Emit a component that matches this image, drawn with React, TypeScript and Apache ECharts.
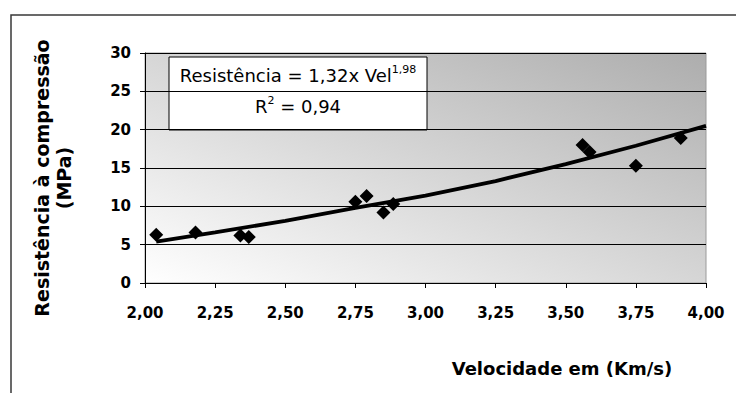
import React, { useEffect, useRef } from "react";
import * as echarts from "echarts";

const velocity = [2.04, 2.18, 2.34, 2.37, 2.75, 2.79, 2.85, 2.885, 3.56, 3.585, 3.75, 3.91];
const strength = [6.3, 6.6, 6.2, 6.0, 10.6, 11.35, 9.2, 10.3, 18.0, 17.1, 15.3, 18.9];
const trendVelocity = [2.04, 2.25, 2.5, 2.75, 3.0, 3.25, 3.5, 3.75, 4.0];
const trendStrength = [5.4, 6.6, 8.1, 9.8, 11.4, 13.3, 15.5, 17.9, 20.5];
const xTickLabels = ["2,00", "2,25", "2,50", "2,75", "3,00", "3,25", "3,50", "3,75", "4,00"];
const yTickLabels = ["0", "5", "10", "15", "20", "25", "30"];
const equationLine1 = "Resistência = 1,32x Vel{sup|1,98}";
const equationLine2 = "R{sup|2} = 0,94";
const yTitle = "Resistência à compressão\n(MPa)";
const xTitle = "Velocidade em (Km/s)";

const FONT = "DejaVu Sans";

export default function App() {
  const ref = useRef<HTMLDivElement>(null);
  useEffect(() => {
    if (!ref.current) return;
    const chart = echarts.init(ref.current, undefined, { renderer: "svg" });
    const bg = new echarts.graphic.LinearGradient(0, 1, 1, 0, [
      { offset: 0, color: "#ffffff" },
      { offset: 1, color: "#adadad" },
    ]);
    chart.setOption({
      animation: false,
      backgroundColor: "#ffffff",
      grid: {
        left: 145,
        right: 30,
        top: 53,
        bottom: 110,
        show: true,
        backgroundColor: bg,
        borderColor: "#9a9a9a",
        borderWidth: 1,
      },
      xAxis: {
        type: "value",
        min: 2,
        max: 4,
        interval: 0.25,
        name: xTitle,
        nameLocation: "middle",
        nameGap: 76,
        nameTextStyle: {
          fontFamily: FONT,
          fontWeight: "bold",
          fontSize: 18,
          color: "#000",
          padding: [0, 0, 0, 273],
        },
        axisLine: { show: true, lineStyle: { color: "#000", width: 1 } },
        axisTick: { show: true, inside: false, length: 5, lineStyle: { color: "#000" } },
        splitLine: { show: false },
        axisLabel: {
          formatter: (v: number) => xTickLabels[Math.round((v - 2) / 0.25)] ?? "",
          fontFamily: FONT,
          fontWeight: "bold",
          fontSize: 15,
          color: "#000",
          margin: 22,
        },
      },
      yAxis: {
        type: "value",
        min: 0,
        max: 30,
        interval: 5,
        name: yTitle,
        nameLocation: "middle",
        nameRotate: 90,
        nameGap: 70,
        nameTextStyle: {
          fontFamily: FONT,
          fontWeight: "bold",
          fontSize: 19,
          lineHeight: 22,
          color: "#000",
          align: "center",
          padding: [0, 20, 0, 0],
        },
        axisLine: { show: true, lineStyle: { color: "#000", width: 1 } },
        axisTick: { show: true, inside: false, length: 5, lineStyle: { color: "#000" } },
        splitLine: { show: true, lineStyle: { color: "#000", width: 1 } },
        axisLabel: {
          formatter: (v: number) => yTickLabels[Math.round(v / 5)] ?? "",
          fontFamily: FONT,
          fontWeight: "bold",
          fontSize: 15,
          color: "#000",
          margin: 14,
        },
      },
      series: [
        {
          type: "line",
          data: trendVelocity.map((x, i) => [x, trendStrength[i]]),
          showSymbol: false,
          symbol: "none",
          lineStyle: { color: "#000", width: 3.8 },
          z: 2,
        },
        {
          type: "scatter",
          data: velocity.map((x, i) => [x, strength[i]]),
          symbol: "diamond",
          symbolSize: 14,
          itemStyle: { color: "#000", opacity: 1 },
          z: 3,
        },
      ],
      graphic: [
        {
          type: "rect",
          silent: true,
          shape: { x: 11, y: 15, width: 800, height: 500 },
          style: { fill: "none", stroke: "#383838", lineWidth: 1.5 },
          z: 10,
        },
        {
          type: "group",
          z: 20,
          children: [
            {
              type: "rect",
              shape: { x: 169, y: 57, width: 258, height: 73 },
              style: { fill: "#ffffff", stroke: "#000", lineWidth: 1 },
            },
            {
              type: "text",
              x: 298,
              y: 75,
              style: {
                text: equationLine1,
                fontFamily: FONT,
                fontSize: 18,
                fill: "#000",
                align: "center",
                verticalAlign: "middle",
                lineHeight: 22,
                rich: {
                  sup: { fontFamily: FONT, fontSize: 11, fill: "#000", verticalAlign: "top", lineHeight: 12 },
                },
              },
            },
            {
              type: "text",
              x: 298,
              y: 106,
              style: {
                text: equationLine2,
                fontFamily: FONT,
                fontSize: 18,
                fill: "#000",
                align: "center",
                verticalAlign: "middle",
                lineHeight: 22,
                rich: {
                  sup: { fontFamily: FONT, fontSize: 11, fill: "#000", verticalAlign: "top", lineHeight: 12 },
                },
              },
            },
          ],
        },
      ],
    });
    return () => chart.dispose();
  }, []);
  return (
    <div
      ref={ref}
      style={{ position: "fixed", left: 0, top: 0, width: 736, height: 393 }}
    />
  );
}
